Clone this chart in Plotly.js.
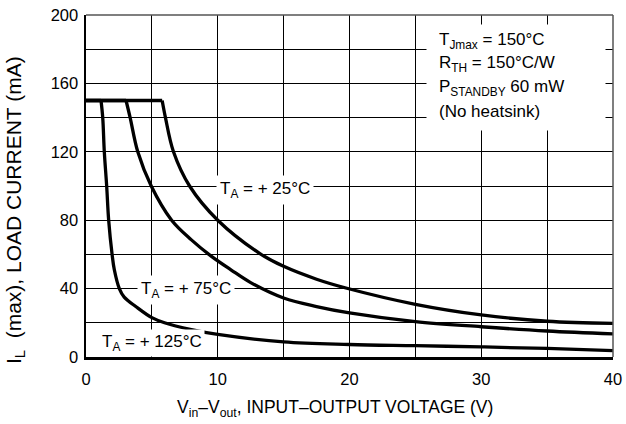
<!DOCTYPE html>
<html>
<head>
<meta charset="utf-8">
<script src="https://cdn.plot.ly/plotly-3.0.1.min.js"></script>
<style>html,body{margin:0;padding:0;background:#fff;}#chart{width:626px;height:424px;}</style>
</head>
<body>
<div id="chart"></div>
<script>
// Data
const x25 = [0, 5.78, 6.03, 6.64, 7.86, 10.0, 13.2, 15, 17.5, 19.8, 25, 30, 35, 40];
const y25 = [150, 150, 140, 120, 100, 80, 60.5, 53, 45.5, 40.2, 30.8, 24.6, 20.9, 19.7];
const x75 = [0, 3.04, 3.35, 3.93, 4.95, 6.5, 8, 9.5, 11, 12.5, 15, 17.5, 20, 25, 30, 35, 40];
const y75 = [150, 150, 140, 120, 100, 80, 68.5, 59, 51, 43.5, 34.5, 29.5, 25.8, 20.7, 17.7, 15.2, 13.5];
const x125 = [0, 1.14, 1.27, 1.39, 1.57, 1.72, 1.98, 2.15, 2.53, 2.9, 3.8, 5.0, 5.96, 8, 10, 15, 20, 25, 30, 35, 40];
const y125 = [150, 150, 140, 120, 100, 80, 60, 51, 40, 35, 29.4, 23, 20, 16, 13.2, 8.8, 7.3, 6.6, 5.9, 5.0, 3.7];
const xTicks = [0, 10, 20, 30, 40];
const yTicks = [0, 40, 80, 120, 160, 200];
const xMinorGrid = [5, 15, 25, 35];
const yMinorGrid = [20, 60, 100, 140, 180];
const curveLabels = ['T<sub>A</sub> = + 25°C', 'T<sub>A</sub> = + 75°C', 'T<sub>A</sub> = + 125°C'];
const noteLines = ['T<sub>Jmax</sub> = 150°C', 'R<sub>TH</sub> = 150°C/W', 'P<sub>STANDBY</sub> 60 mW', '(No heatsink)'];
const xTitle = 'V<sub>in</sub>–V<sub>out</sub>, INPUT–OUTPUT VOLTAGE (V)';
const yTitle = 'I<sub>L</sub>  (max), LOAD CURRENT (mA)';

const REG = 'Liberation Sans, Arial, Helvetica, sans-serif';
const W = 626, H = 424, ML = 86, MR = 13, MT = 15, MB = 67;
const PW = W - ML - MR, PH = H - MT - MB;
const px = p => (p - ML) / PW;          // pixel -> paper x
const py = p => (H - MB - p) / PH;      // pixel -> paper y

// Each curve: flat current-limit part drawn straight, falling part drawn smooth
const flatStyle = {color: '#000', width: 3.3};
const curveStyle = {color: '#000', width: 3.3, shape: 'spline', smoothing: 1};
const traces = [];
[[x25, y25], [x75, y75], [x125, y125]].forEach(([xs, ys]) => {
  traces.push({x: xs.slice(0, 2), y: ys.slice(0, 2), mode: 'lines', line: flatStyle, hoverinfo: 'skip'});
  traces.push({x: xs.slice(1), y: ys.slice(1), mode: 'lines', line: curveStyle, hoverinfo: 'skip'});
});

const ann = (xp, yp, t, extra) => Object.assign({
  x: px(xp), y: py(yp), xref: 'paper', yref: 'paper', text: t, showarrow: false,
  xanchor: 'center', yanchor: 'middle',
  font: {family: REG, size: 17, color: '#000'}
}, extra || {});

const annotations = [
  ann(265, 190, curveLabels[0], {bgcolor: '#fff', borderpad: 3}),
  ann(186, 290, curveLabels[1], {bgcolor: '#fff', borderpad: 3}),
  ann(152, 343, curveLabels[2], {bgcolor: '#fff', borderpad: 2}),
  // white panel behind the note
  ann(516, 77.5, ' ', {width: 178, height: 105, bgcolor: '#fff', borderpad: 0}),
  ann(437, 41, noteLines[0], {xanchor: 'left'}),
  ann(437, 64, noteLines[1], {xanchor: 'left'}),
  ann(437, 88, noteLines[2], {xanchor: 'left'}),
  ann(437, 112, noteLines[3], {xanchor: 'left'}),
  ann(15, 210, yTitle, {textangle: -90, font: {family: REG, size: 21, color: '#000'}}),
  ann(335, 408, xTitle, {font: {family: REG, size: 17.5, color: '#000'}})
];

const layout = {
  width: W, height: H,
  margin: {l: ML, r: MR, t: MT, b: MB},
  paper_bgcolor: '#fff', plot_bgcolor: '#fff',
  showlegend: false,
  font: {family: REG, size: 16, color: '#000'},
  xaxis: {
    range: [0, 40], tickmode: 'array', tickvals: xTicks, ticktext: xTicks.map(String),
    showgrid: true, gridcolor: '#000', gridwidth: 1,
    minor: {tickmode: 'array', tickvals: xMinorGrid, showgrid: true, gridcolor: '#000', gridwidth: 1},
    zeroline: false, showline: true, linecolor: '#000', linewidth: 2.5,
    ticks: '', ticklabelstandoff: 6, tickfont: {family: REG, size: 16.5}, fixedrange: true
  },
  yaxis: {
    range: [0, 200], tickmode: 'array', tickvals: yTicks, ticktext: yTicks.map(String),
    showgrid: true, gridcolor: '#000', gridwidth: 1,
    minor: {tickmode: 'array', tickvals: yMinorGrid, showgrid: true, gridcolor: '#000', gridwidth: 1},
    zeroline: false, showline: true, linecolor: '#000', linewidth: 2.5,
    ticks: '', ticklabelstandoff: 2, tickfont: {family: REG, size: 16.5}, fixedrange: true
  },
  shapes: [
    {type: 'line', xref: 'paper', yref: 'paper', x0: 0, x1: 1, y0: 1, y1: 1, line: {color: '#555', width: 1.5}},
    {type: 'line', xref: 'paper', yref: 'paper', x0: 1, x1: 1, y0: 0, y1: 1, line: {color: '#555', width: 1.5}}
  ],
  annotations: annotations
};

Plotly.newPlot('chart', traces, layout, {displayModeBar: false, staticPlot: true});
</script>
</body>
</html>
